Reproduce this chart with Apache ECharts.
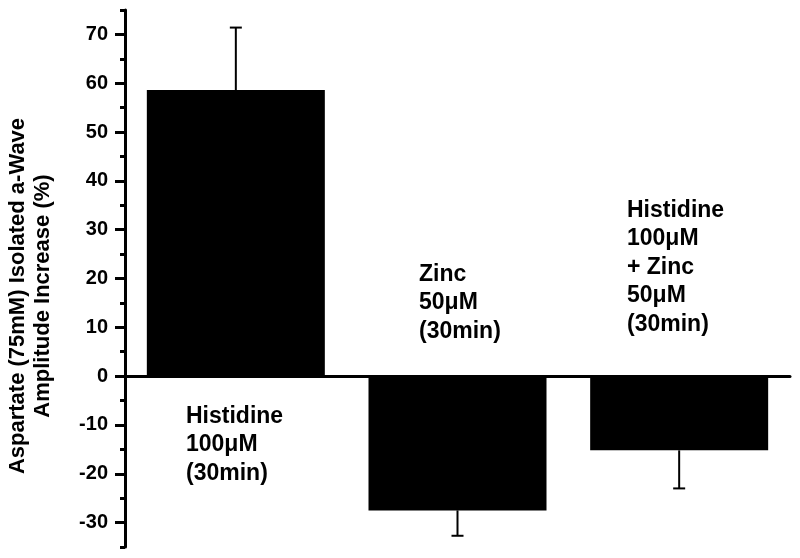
<!DOCTYPE html>
<html>
<head>
<meta charset="utf-8">
<script src="https://cdn.jsdelivr.net/npm/echarts@6/dist/echarts.min.js"></script>
<style>
  html, body { margin: 0; padding: 0; background: #fff; }
  #chart { width: 800px; height: 558px; }
</style>
</head>
<body>
<div id="chart"></div>
<script>
// data
const categories = ['Histidine', 'Zinc', 'Histidine + Zinc']
const values = [58.6, -27.5, -15.2]
const errors = [12.8, 5.2, 7.8]
const majorTicks = [-30, -20, -10, 0, 10, 20, 30, 40, 50, 60, 70]

const barLabels = [
  'Histidine\n100\u03bcM\n(30min)',
  'Zinc\n50\u03bcM\n(30min)',
  'Histidine\n100\u03bcM\n+ Zinc\n50\u03bcM\n(30min)'
]
const axisTitle = 'Aspartate (75mM) Isolated a-Wave\nAmplitude Increase (%)'

const FONT = 'Arial, "Liberation Sans", Helvetica, sans-serif'

const chart = echarts.init(document.getElementById('chart'))

// one-sided error bars, drawn away from zero
const errData = values.map((v, i) => [i, v, v >= 0 ? v + errors[i] : v - errors[i]])

const renderErr = (params, api) => {
  const start = api.coord([api.value(0), api.value(1)])
  const end = api.coord([api.value(0), api.value(2)])
  const half = 6
  const style = { stroke: '#000', lineWidth: 2 }
  return {
    type: 'group',
    children: [
      { type: 'line', shape: { x1: start[0], y1: start[1], x2: end[0], y2: end[1] }, style },
      { type: 'line', shape: { x1: end[0] - half, y1: end[1], x2: end[0] + half, y2: end[1] }, style }
    ]
  }
}

const labelStyle = {
  fill: '#000',
  font: 'bold 23px ' + FONT,
  lineHeight: 28.5
}

chart.setOption({
  animation: false,
  backgroundColor: '#fff',
  grid: { left: 125, right: 10, top: 10, bottom: 11 },
  xAxis: {
    type: 'category',
    data: categories,
    axisLine: { onZero: true, lineStyle: { color: '#000', width: 3 } },
    axisTick: { show: false },
    axisLabel: { show: false },
    splitLine: { show: false }
  },
  yAxis: [
    {
      // minor ticks every 5 plus the axis line
      type: 'value',
      min: -35,
      max: 75,
      interval: 5,
      axisLine: { show: true, onZero: false, lineStyle: { color: '#000', width: 3 } },
      axisTick: { show: true, inside: false, length: 5, lineStyle: { color: '#000', width: 3 } },
      axisLabel: { show: false },
      splitLine: { show: false }
    },
    {
      // major ticks and labels
      type: 'value',
      position: 'left',
      min: -35,
      max: 75,
      interval: 5,
      axisLine: { show: false },
      axisTick: {
        show: true,
        inside: false,
        length: 10,
        customValues: majorTicks,
        lineStyle: { color: '#000', width: 3 }
      },
      axisLabel: {
        show: true,
        customValues: majorTicks,
        margin: 17,
        color: '#000',
        fontSize: 20,
        fontWeight: 'bold',
        fontFamily: FONT
      },
      splitLine: { show: false }
    }
  ],
  series: [
    {
      type: 'bar',
      data: values,
      barWidth: 178,
      itemStyle: { color: '#000' }
    },
    {
      type: 'custom',
      renderItem: renderErr,
      data: errData,
      encode: { x: 0, y: [1, 2] },
      z: 3
    }
  ],
  graphic: [
    {
      type: 'text',
      x: 30,
      y: 296,
      rotation: Math.PI / 2,
      style: {
        text: axisTitle,
        fill: '#000',
        font: 'bold 22px ' + FONT,
        lineHeight: 25,
        textAlign: 'center',
        textVerticalAlign: 'middle'
      }
    },
    { type: 'text', left: 186, top: 402, style: Object.assign({ text: barLabels[0] }, labelStyle) },
    { type: 'text', left: 419, top: 260, style: Object.assign({ text: barLabels[1] }, labelStyle) },
    { type: 'text', left: 627, top: 196, style: Object.assign({ text: barLabels[2] }, labelStyle) }
  ]
})
</script>
</body>
</html>
